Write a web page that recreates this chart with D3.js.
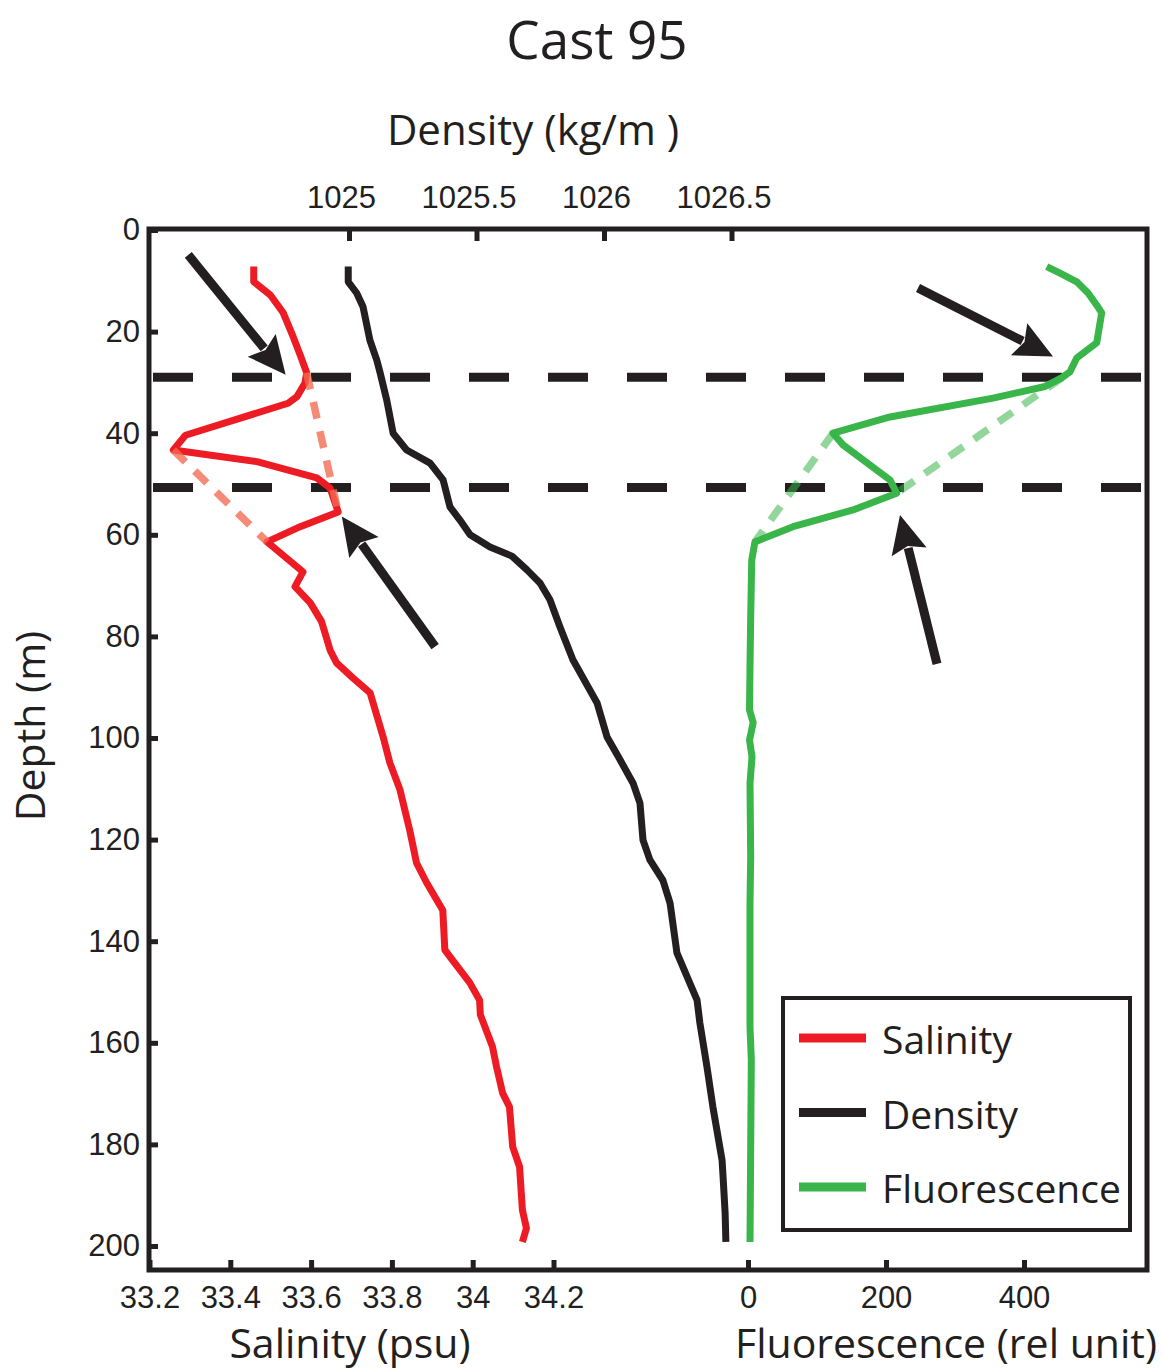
<!DOCTYPE html>
<meta charset="utf-8">
<style>
body { margin: 0; background: #fff; }
.axis path { display: none; }
.axis line { stroke: #231f20; stroke-width: 5px; }
.axis text { font-family: "Liberation Sans", Arial, sans-serif; font-size: 31px; fill: #231f20; }
.label { font-family: "Open Sans", sans-serif; fill: #231f20; }
.profile { fill: none; stroke-width: 7px; stroke-linejoin: round; }
</style>
<svg width="1162" height="1370"></svg>
<script src="https://d3js.org/d3.v7.min.js"></script>
<script>
// depth (m) and salinity (psu)
var salDepth = [7.2,10.2,12.8,16.3,21.1,24.6,28.1,30.1,32.8,34.1,40.4,43.3,45.6,48.8,50.8,55.5,58.4,61.4,67.3,70.2,73.4,77.1,82.7,85.2,88.2,91.1,99.7,104.9,110.2,118.1,124.6,128.5,133.9,141.7,143.0,148.2,151.6,154.5,160.8,164.7,169.9,172.6,180.5,184.4,192.9,196.5,199.2];
var salinity = [33.458,33.458,33.499,33.531,33.556,33.573,33.589,33.585,33.565,33.543,33.289,33.259,33.466,33.614,33.647,33.667,33.573,33.491,33.580,33.560,33.598,33.626,33.647,33.663,33.704,33.746,33.778,33.795,33.820,33.844,33.861,33.886,33.926,33.931,33.943,33.993,34.017,34.019,34.049,34.059,34.074,34.091,34.099,34.116,34.123,34.133,34.123];

// depth (m) and density (kg/m3)
var denDepth = [7.2,10.2,12.4,15.1,21.7,25.6,28.1,33.5,40.0,43.3,45.9,49.2,54.5,57.1,60.0,62.4,64.2,66.9,69.5,72.8,78.1,84.6,90.6,93.1,99.8,104.3,108.9,112.8,120.1,124.0,128.0,132.5,142.3,151.6,156.1,164.8,172.6,183.1,186.4,193.5,199.2];
var density = [1024.997,1024.997,1025.030,1025.055,1025.082,1025.109,1025.122,1025.148,1025.173,1025.226,1025.318,1025.369,1025.396,1025.435,1025.475,1025.553,1025.639,1025.698,1025.749,1025.788,1025.827,1025.878,1025.945,1025.973,1026.012,1026.063,1026.114,1026.141,1026.153,1026.180,1026.231,1026.259,1026.286,1026.365,1026.376,1026.404,1026.427,1026.463,1026.467,1026.475,1026.478];

// depth (m) and fluorescence (rel unit)
var fluDepth = [7.2,8.5,10.2,12.4,14.8,16.3,22.2,25.2,27.9,29.1,30.8,33.1,36.8,40.0,42.3,49.2,51.8,55.1,58.4,61.4,65.0,76.2,86.0,94.5,97.0,100.4,103.7,108.9,123.4,132.5,156.9,163.4,199.2];
var fluor = [432.9,452.2,476.4,492.8,505.4,512.6,505.4,476.4,466.7,454.6,430.4,355.1,205.8,123.2,137.7,205.8,215.5,152.2,65.2,10.1,5.4,3.9,2.9,2.2,7.5,2.2,5.8,2.9,3.9,2.9,2.9,4.8,2.9];

// dashed links across the intrusion: [value, depth] pairs
var salGaps = [[[33.589, 28.1], [33.667, 55.5]], [[33.259, 43.3], [33.491, 61.4]]];
var fluGaps = [[[454.6, 29.1], [215.5, 51.8]], [[123.2, 40.0], [10.1, 61.4]]];

// layer boundaries (m)
var layerDepths = [29.0, 50.7];

// arrows: [tail, tip] as [value, depth]
var salArrows = [[[33.296, 4.9], [33.537, 28.5]], [[33.907, 82.0], [33.676, 56.4]]];
var fluArrows = [[[246.4, 11.4], [442.0, 24.9]], [[273.9, 85.4], [220.3, 56.1]]];

var depthTicks = d3.range(0, 201, 20),
    salTicks = [33.2, 33.4, 33.6, 33.8, 34, 34.2],
    denTicks = [1025, 1025.5, 1026, 1026.5],
    fluTicks = [0, 200, 400];

var series = ["Salinity", "Density", "Fluorescence"],
    colors = ["#ed1c24", "#231f20", "#39b54a"];

var svg = d3.select("svg"),
    plotLeft = 149, plotRight = 1147, plotTop = 230, plotBottom = 1270;

var y = d3.scaleLinear().domain([0, 200]).range([plotTop, 1246]),
    xSal = d3.scaleLinear().domain([33.2, 34.2]).range([149.5, 553.5]),
    xDen = d3.scaleLinear().domain([1025, 1026.5]).range([349, 731.5]),
    xFlu = d3.scaleLinear().domain([0, 400]).range([748, 1024]);

var fmt = function(d) { return String(d); };

// axes
svg.append("g")
    .attr("class", "axis")
    .attr("transform", "translate(" + plotLeft + ",0)")
    .call(d3.axisLeft(y).tickValues(depthTicks).tickFormat(fmt).tickSize(-9).tickPadding(9));

svg.append("g")
    .attr("class", "axis")
    .attr("transform", "translate(0," + plotBottom + ")")
    .call(d3.axisBottom(xSal).tickValues(salTicks).tickFormat(fmt).tickSize(-10).tickPadding(16));

svg.append("g")
    .attr("class", "axis")
    .attr("transform", "translate(0," + plotBottom + ")")
    .call(d3.axisBottom(xFlu).tickValues(fluTicks).tickFormat(fmt).tickSize(-10).tickPadding(16));

svg.append("g")
    .attr("class", "axis")
    .attr("transform", "translate(0," + plotTop + ")")
    .call(d3.axisTop(xDen).tickValues(denTicks).tickFormat(fmt).tickSize(-11).tickPadding(22))
  .selectAll("text")
    .attr("x", -8);

// frame
svg.append("rect")
    .attr("x", plotLeft).attr("y", plotTop - 1)
    .attr("width", plotRight - plotLeft).attr("height", plotBottom - plotTop + 1)
    .attr("fill", "none")
    .attr("stroke", "#231f20")
    .attr("stroke-width", 5);

// layer boundaries
svg.selectAll(".layer")
    .data(layerDepths)
  .enter().append("line")
    .attr("class", "layer")
    .attr("x1", 153).attr("x2", 1142)
    .attr("y1", function(d) { return y(d); })
    .attr("y2", function(d) { return y(d); })
    .attr("stroke", "#231f20")
    .attr("stroke-width", 9)
    .attr("stroke-dasharray", "40,39");

function profile(xs, vals, depths, color) {
  var line = d3.line()
      .x(function(i) { return xs(vals[i]); })
      .y(function(i) { return y(depths[i]); });
  svg.append("path")
      .datum(d3.range(vals.length))
      .attr("class", "profile")
      .attr("stroke", color)
      .attr("d", line);
}

profile(xSal, salinity, salDepth, colors[0]);
profile(xDen, density, denDepth, colors[1]);
profile(xFlu, fluor, fluDepth, colors[2]);

function gaps(xs, data, color, op) {
  svg.selectAll(null)
      .data(data)
    .enter().append("line")
      .attr("x1", function(d) { return xs(d[0][0]); })
      .attr("y1", function(d) { return y(d[0][1]); })
      .attr("x2", function(d) { return xs(d[1][0]); })
      .attr("y2", function(d) { return y(d[1][1]); })
      .attr("stroke", color)
      .attr("stroke-opacity", op)
      .attr("stroke-width", 7.5)
      .attr("stroke-dasharray", "17,13");
}

gaps(xSal, salGaps, "#f26a4f", 0.78);
gaps(xFlu, fluGaps, "#39b54a", 0.55);

function arrows(xs, data) {
  data.forEach(function(a) {
    var x0 = xs(a[0][0]), y0 = y(a[0][1]),
        x1 = xs(a[1][0]), y1 = y(a[1][1]);
    var dx = x1 - x0, dy = y1 - y0, len = Math.sqrt(dx * dx + dy * dy),
        ux = dx / len, uy = dy / len,
        hl = 38, hw = 18,
        bx = x1 - ux * hl, by = y1 - uy * hl;
    svg.append("line")
        .attr("x1", x0).attr("y1", y0)
        .attr("x2", bx + ux * 4).attr("y2", by + uy * 4)
        .attr("stroke", "#231f20")
        .attr("stroke-width", 9);
    svg.append("path")
        .attr("d", "M" + x1 + "," + y1 +
                   "L" + (bx - uy * hw) + "," + (by + ux * hw) +
                   "L" + (bx + ux * 6) + "," + (by + uy * 6) +
                   "L" + (bx + uy * hw) + "," + (by - ux * hw) + "Z")
        .attr("fill", "#231f20");
  });
}

arrows(xSal, salArrows);
arrows(xFlu, fluArrows);

// legend
var legend = svg.append("g");
legend.append("rect")
    .attr("x", 783).attr("y", 998)
    .attr("width", 347).attr("height", 232)
    .attr("fill", "#fff")
    .attr("stroke", "#231f20")
    .attr("stroke-width", 4);

var item = legend.selectAll(".item")
    .data(series)
  .enter().append("g")
    .attr("class", "item")
    .attr("transform", function(d, i) { return "translate(0," + (1038 + i * 74.5) + ")"; });

item.append("line")
    .attr("x1", 799).attr("x2", 866)
    .attr("stroke", function(d, i) { return colors[i]; })
    .attr("stroke-width", 9);

item.append("text")
    .attr("class", "label")
    .attr("x", 882)
    .attr("y", 16)
    .style("font-size", "39px")
    .text(function(d) { return d; });

// titles
svg.append("text")
    .attr("class", "label")
    .attr("x", 597).attr("y", 59)
    .attr("text-anchor", "middle")
    .style("font-size", "53px")
    .text("Cast 95");

svg.append("text")
    .attr("class", "label")
    .attr("x", 533).attr("y", 145)
    .attr("text-anchor", "middle")
    .style("font-size", "42px")
    .text("Density (kg/m )");

svg.append("text")
    .attr("class", "label")
    .attr("x", 350).attr("y", 1358)
    .attr("text-anchor", "middle")
    .style("font-size", "41px")
    .text("Salinity (psu)");

svg.append("text")
    .attr("class", "label")
    .attr("x", 946).attr("y", 1358)
    .attr("text-anchor", "middle")
    .style("font-size", "41px")
    .text("Fluorescence (rel unit)");

svg.append("text")
    .attr("class", "label")
    .attr("transform", "translate(45,726) rotate(-90)")
    .attr("text-anchor", "middle")
    .style("font-size", "41px")
    .text("Depth (m)");
</script>
